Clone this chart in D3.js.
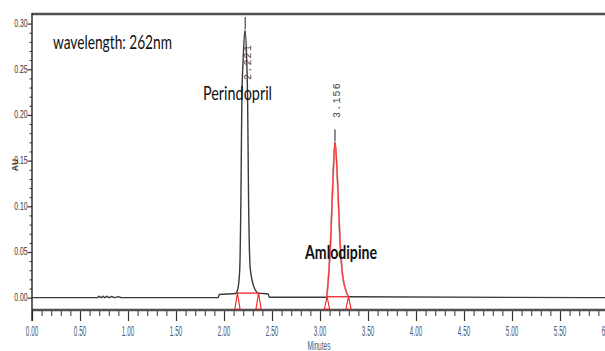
<!DOCTYPE html>
<html><head><meta charset="utf-8">
<script src="https://cdn.jsdelivr.net/npm/d3@7"></script>
<style>html,body{margin:0;padding:0;background:#fff;overflow:hidden}</style>
</head><body><svg id="c" width="605" height="351"></svg>
<script>
// ---- data ----
const xTickValues = [0, 0.5, 1, 1.5, 2, 2.5, 3, 3.5, 4, 4.5, 5, 5.5, 6];
const xTickLabels = ["0.00","0.50","1.00","1.50","2.00","2.50","3.00","3.50","4.00","4.50","5.00","5.50","6.00"];
const yTickValues = [0, 0.05, 0.10, 0.15, 0.20, 0.25, 0.30];
const yTickLabels = ["0.00","0.05","0.10","0.15","0.20","0.25","0.30"];
const xAxisTitle = "Minutes";
const yAxisTitle = "AU";
const wavelengthLabel = "wavelength: 262nm";

// chromatogram trace (minutes, AU)
const traceTime = [0, 0.68, 0.70, 0.72, 0.74, 0.76, 0.78, 0.80, 0.83, 0.86, 0.90, 0.93, 1.94, 1.95, 2.12,
  2.143, 2.164, 2.176, 2.186, 2.200, 2.218, 2.236, 2.246, 2.256, 2.274, 2.323, 2.36, 2.46, 2.47,
  3.07, 3.078, 3.094, 3.111, 3.135, 3.156, 3.182, 3.208, 3.229, 3.266, 3.30, 6.0];
const traceAU = [0, 0, 0.0015, 0, 0.0015, 0, 0.0015, 0, 0.0012, 0, 0.001, 0, 0, 0.0035, 0.0045,
  0.009, 0.031, 0.107, 0.217, 0.262, 0.293, 0.262, 0.217, 0.107, 0.031, 0.009, 0.005, 0.004, 0.0005,
  0.0005, 0.009, 0.031, 0.0635, 0.129, 0.170, 0.129, 0.0635, 0.031, 0.009, 0.001, 0];

// Amlodipine integrated peak (red overlay)
const amlodipineTime = [3.07, 3.078, 3.094, 3.111, 3.135, 3.156, 3.182, 3.208, 3.229, 3.266, 3.30];
const amlodipineAU   = [0.0005, 0.009, 0.031, 0.0635, 0.129, 0.170, 0.129, 0.0635, 0.031, 0.009, 0.001];

const peakNames = ["Perindopril", "Amlodipine"];
const peakRT = [2.221, 3.156];
const peakRTLabels = ["2.221", "3.156"];
const peakApexAU = [0.293, 0.170];
const peakStart = [2.14, 3.073];
const peakEnd = [2.36, 3.297];
const peakBaseAU = [0.005, 0.001];

// ---- drawing ----
const svg = d3.select("#c");
const x = d3.scaleLinear().domain([0, 6]).range([32, 608]);
const y = d3.scaleLinear().domain([-0.0135, 0.3105]).range([310, 14]);

// frame
svg.append("line").attr("x1", 32).attr("x2", 605).attr("y1", 14).attr("y2", 14)
  .attr("stroke", "#505050").attr("stroke-width", 2.6);

// x axis ticks
const minorX = d3.range(0, 6.001, 0.1).filter(v => Math.abs(v * 2 - Math.round(v * 2)) > 1e-6);
svg.append("g").attr("transform", "translate(0,310)")
  .call(d3.axisBottom(x).tickValues(minorX).tickSize(6).tickSizeOuter(0).tickFormat(""))
  .call(g => g.select(".domain").remove())
  .selectAll("line").attr("stroke", "#333").attr("stroke-width", 1);
svg.append("g").attr("transform", "translate(0,310)")
  .call(d3.axisBottom(x).tickValues(xTickValues).tickSize(11).tickSizeOuter(0).tickFormat(""))
  .call(g => g.select(".domain").remove())
  .selectAll("line").attr("stroke", "#333").attr("stroke-width", 1.2);
svg.append("line").attr("x1", 32).attr("x2", 605).attr("y1", 310).attr("y2", 310)
  .attr("stroke", "#505050").attr("stroke-width", 2.4);

svg.append("g").selectAll("text").data(xTickValues).join("text")
  .attr("transform", d => `translate(${x(d)},335.5) scale(0.42,1)`)
  .attr("text-anchor", "middle")
  .attr("font-family", "Liberation Sans Narrow, Liberation Sans, sans-serif")
  .attr("font-size", 15).attr("fill", "#4a5878")
  .text((d, i) => xTickLabels[i]);

svg.append("text").attr("transform", "translate(319,350) scale(0.55,1)")
  .attr("text-anchor", "middle")
  .attr("font-family", "Liberation Sans Narrow, Liberation Sans, sans-serif")
  .attr("font-size", 12).attr("fill", "#4a5878").text(xAxisTitle);

// y axis
const minorY = d3.range(0, 0.3001, 0.01).filter(v => Math.abs(v * 20 - Math.round(v * 20)) > 1e-6);
svg.append("g").attr("transform", "translate(32,0)")
  .call(d3.axisLeft(y).tickValues(minorY).tickSize(2.5).tickSizeOuter(0).tickFormat(""))
  .call(g => g.select(".domain").remove())
  .selectAll("line").attr("stroke", "#333").attr("stroke-width", 1);
svg.append("g").attr("transform", "translate(32,0)")
  .call(d3.axisLeft(y).tickValues(yTickValues).tickSize(4.5).tickSizeOuter(0).tickFormat(""))
  .call(g => g.select(".domain").remove())
  .selectAll("line").attr("stroke", "#333").attr("stroke-width", 1.2);
svg.append("line").attr("x1", 32).attr("x2", 32).attr("y1", 13).attr("y2", 321)
  .attr("stroke", "#222").attr("stroke-width", 1.4);

svg.append("g").selectAll("text").data(yTickValues).join("text")
  .attr("transform", d => `translate(27.5,${y(d) + 3.5}) scale(0.62,1)`)
  .attr("text-anchor", "end")
  .attr("font-family", "Liberation Sans Narrow, Liberation Sans, sans-serif")
  .attr("font-size", 11).attr("fill", "#333")
  .text((d, i) => yTickLabels[i]);

svg.append("text").attr("transform", "translate(14.5,165) rotate(-90)")
  .attr("text-anchor", "middle").attr("dominant-baseline", "central")
  .attr("font-family", "Liberation Sans, sans-serif").attr("font-weight", "bold")
  .attr("font-size", 8.5).attr("fill", "#333").text(yAxisTitle);

// trace
const line = d3.line().x(d => x(d[0])).y(d => y(d[1])).curve(d3.curveMonotoneX);
const trace = traceTime.map((t, i) => [t, traceAU[i]]);
svg.append("path").attr("d", line(trace)).attr("fill", "none")
  .attr("stroke", "#3a3a3a").attr("stroke-width", 1.4).attr("stroke-linejoin", "round");

const aml = amlodipineTime.map((t, i) => [t, amlodipineAU[i]]);
svg.append("path").attr("d", line(aml)).attr("fill", "none")
  .attr("stroke", "#ff9a9a").attr("stroke-width", 1.8);
svg.append("path").attr("d", line(aml)).attr("fill", "none")
  .attr("stroke", "#ee2020").attr("stroke-width", 0.9);

// integration marks
peakRT.forEach((rt, i) => {
  const yb = y(peakBaseAU[i]);
  svg.append("line").attr("x1", x(peakStart[i])).attr("x2", x(peakEnd[i]))
    .attr("y1", yb).attr("y2", yb).attr("stroke", "#f02020").attr("stroke-width", 1.3);
  [peakStart[i], peakEnd[i]].forEach(t => {
    const px = x(t);
    svg.append("path")
      .attr("d", `M${px},${yb} L${px + 2.6},${309} L${px - 2.6},${309} Z`)
      .attr("fill", "#fff").attr("stroke", "#f02020").attr("stroke-width", 1.1);
  });
  // leader line above apex
  const ya = y(peakApexAU[i]);
  svg.append("line").attr("x1", x(rt)).attr("x2", x(rt)).attr("y1", ya - 1).attr("y2", ya - 13)
    .attr("stroke", "#444").attr("stroke-width", 1.2);
});

// retention time labels
const rtLabelPos = [[248, 80], [337, 118]];
peakRTLabels.forEach((lab, i) => {
  svg.append("text")
    .attr("transform", `translate(${rtLabelPos[i][0]},${rtLabelPos[i][1]}) rotate(-90)`)
    .attr("dominant-baseline", "central")
    .attr("font-family", "Liberation Mono, DejaVu Sans Mono, monospace")
    .attr("font-size", 10).attr("letter-spacing", 1.2).attr("fill", "#444")
    .text(lab);
});

// annotations
svg.append("text").attr("x", 53).attr("y", 48.5)
  .attr("font-family", "Lato, sans-serif").attr("font-size", 20).attr("fill", "#111")
  .attr("textLength", 119).attr("lengthAdjust", "spacingAndGlyphs").text(wavelengthLabel);
svg.append("text").attr("x", 203).attr("y", 100)
  .attr("font-family", "Lato, sans-serif").attr("font-size", 20).attr("fill", "#111")
  .attr("textLength", 69).attr("lengthAdjust", "spacingAndGlyphs").text(peakNames[0]);
svg.append("text").attr("x", 305).attr("y", 258.5)
  .attr("font-family", "Lato, sans-serif").attr("font-weight", "bold").attr("font-size", 18.5).attr("fill", "#111")
  .attr("textLength", 72).attr("lengthAdjust", "spacingAndGlyphs").text(peakNames[1]);
</script></body></html>
